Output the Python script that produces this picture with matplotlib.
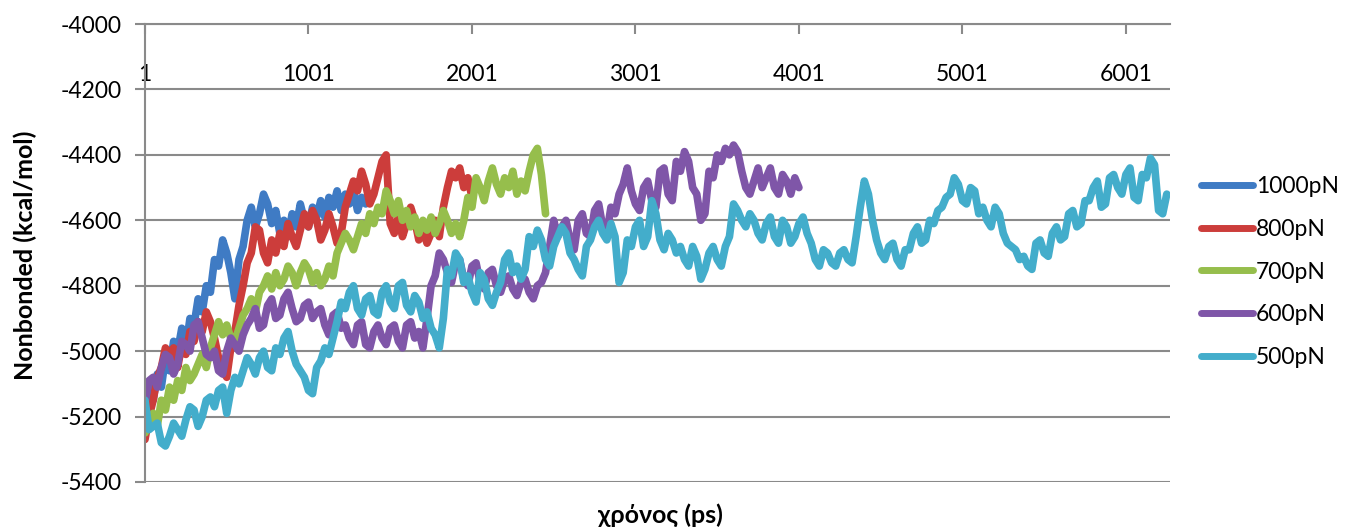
import matplotlib
matplotlib.use("Agg")
import matplotlib.pyplot as plt
import numpy as np

plt.rcParams['font.family'] = ['Lato', 'DejaVu Sans']

# Sampling interval of the stored traces (ps)
STEP = 25

series_names = ["1000pN", "800pN", "700pN", "600pN", "500pN"]
series_colors = ["#3F7BC4", "#CC3D3B", "#96BE4C", "#7F56A8", "#43ADCB"]

e_1000pN = [-5180, -5110, -5150, -5070, -5110, -5020, -5060, -4970, -5000, -4930,
            -4990, -4900, -4920, -4840, -4880, -4800, -4820, -4720, -4740, -4660,
            -4700, -4760, -4840, -4720, -4680, -4600, -4560, -4620, -4580, -4520,
            -4550, -4610, -4570, -4640, -4600, -4650, -4580, -4620, -4550, -4600,
            -4620, -4560, -4590, -4540, -4590, -4530, -4560, -4510, -4570, -4520,
            -4550, -4510, -4570, -4530, -4550]

e_800pN = [-5270, -5200, -5150, -5080, -5050, -4990, -5010, -4990, -5050, -4980,
           -5010, -4940, -4970, -4910, -4940, -4880, -4910, -4960, -5020, -5060,
           -5080, -4990, -4940, -4860, -4800, -4730, -4700, -4620, -4630, -4700,
           -4730, -4660, -4700, -4640, -4680, -4610, -4650, -4680, -4630, -4580,
           -4620, -4570, -4600, -4660, -4630, -4580, -4620, -4670, -4640, -4560,
           -4520, -4480, -4510, -4450, -4490, -4550, -4520, -4470, -4420, -4400,
           -4610, -4640, -4590, -4650, -4610, -4560, -4600, -4660, -4630, -4670,
           -4640, -4600, -4650, -4560, -4500, -4450, -4470, -4440, -4500, -4470,
           -4530]

e_700pN = [-5250, -5220, -5190, -5230, -5150, -5180, -5110, -5150, -5090, -5120,
           -5050, -5090, -5070, -5040, -5010, -5050, -4990, -4950, -4910, -4950,
           -4920, -4960, -4970, -4930, -4890, -4870, -4840, -4880, -4820, -4800,
           -4770, -4810, -4760, -4800, -4780, -4740, -4760, -4800, -4760, -4730,
           -4750, -4790, -4760, -4800, -4780, -4740, -4770, -4700, -4670, -4640,
           -4660, -4690, -4650, -4610, -4640, -4580, -4610, -4560, -4580, -4510,
           -4540, -4580, -4540, -4600, -4570, -4620, -4590, -4640, -4600, -4630,
           -4590, -4640, -4610, -4570, -4600, -4640, -4610, -4650, -4600, -4530,
           -4560, -4470, -4500, -4540, -4480, -4440, -4490, -4520, -4470, -4500,
           -4450, -4520, -4480, -4510, -4450, -4400, -4380, -4460, -4580]

e_600pN = [-5150, -5090, -5080, -5110, -5050, -5010, -5020, -5070, -5040, -4970,
           -4980, -5000, -4920, -4910, -4960, -5010, -5020, -5000, -5060, -5070,
           -5000, -4960, -4980, -5000, -4950, -4920, -4900, -4870, -4930, -4920,
           -4860, -4840, -4900, -4890, -4840, -4820, -4870, -4910, -4900, -4860,
           -4850, -4900, -4880, -4870, -4920, -4950, -4890, -4880, -4930, -4920,
           -4960, -4980, -4920, -4910, -4980, -4990, -4940, -4920, -4960, -4980,
           -4930, -4920, -4970, -4990, -4920, -4910, -4960, -4940, -4990, -4900,
           -4800, -4770, -4700, -4720, -4760, -4790, -4730, -4720, -4780, -4800,
           -4740, -4730, -4790, -4810, -4760, -4750, -4800, -4820, -4780, -4770,
           -4810, -4830, -4790, -4780, -4820, -4840, -4800, -4790, -4760, -4680,
           -4600, -4650, -4620, -4600, -4660, -4690, -4600, -4580, -4640, -4650,
           -4570, -4550, -4620, -4640, -4560, -4580, -4520, -4490, -4440, -4510,
           -4550, -4570, -4500, -4480, -4540, -4560, -4450, -4440, -4520, -4540,
           -4420, -4450, -4390, -4420, -4500, -4520, -4600, -4580, -4450, -4470,
           -4400, -4420, -4380, -4400, -4370, -4390, -4450, -4500, -4520, -4480,
           -4440, -4500, -4470, -4440, -4500, -4520, -4460, -4480, -4520, -4470,
           -4500]

e_500pN = [-5150, -5240, -5230, -5220, -5280, -5290, -5260, -5220, -5240, -5260,
           -5210, -5170, -5180, -5230, -5200, -5150, -5140, -5170, -5120, -5110,
           -5190, -5120, -5080, -5100, -5060, -5020, -5040, -5070, -5020, -5000,
           -5050, -5060, -4990, -5010, -4960, -4940, -5000, -5040, -5060, -5080,
           -5120, -5130, -5050, -5030, -4990, -5010, -4960, -4910, -4850, -4870,
           -4820, -4800, -4870, -4890, -4840, -4830, -4880, -4890, -4820, -4800,
           -4850, -4870, -4800, -4790, -4860, -4880, -4830, -4850, -4900, -4880,
           -4930, -4950, -4990, -4900, -4750, -4770, -4700, -4720, -4790, -4770,
           -4820, -4850, -4760, -4780, -4840, -4860, -4820, -4790, -4720, -4700,
           -4760, -4740, -4780, -4750, -4650, -4680, -4630, -4660, -4720, -4740,
           -4680, -4650, -4620, -4640, -4700, -4720, -4750, -4770, -4680, -4660,
           -4620, -4600, -4640, -4660, -4610, -4650, -4790, -4760, -4660, -4680,
           -4620, -4600, -4680, -4650, -4540, -4580, -4660, -4690, -4640, -4660,
           -4700, -4680, -4720, -4740, -4680, -4710, -4780, -4750, -4700, -4680,
           -4720, -4740, -4680, -4650, -4550, -4570, -4600, -4620, -4580, -4600,
           -4640, -4660, -4610, -4590, -4650, -4670, -4600, -4620, -4670, -4650,
           -4610, -4590, -4640, -4670, -4720, -4740, -4690, -4700, -4730, -4740,
           -4700, -4690, -4720, -4730, -4650, -4560, -4480, -4520, -4600, -4660,
           -4700, -4720, -4680, -4670, -4720, -4740, -4690, -4690, -4640, -4620,
           -4670, -4660, -4600, -4610, -4570, -4560, -4530, -4520, -4470, -4490,
           -4540, -4550, -4500, -4510, -4580, -4560, -4600, -4620, -4560, -4580,
           -4640, -4670, -4680, -4690, -4720, -4710, -4740, -4750, -4670, -4660,
           -4700, -4710, -4640, -4620, -4660, -4650, -4580, -4570, -4620, -4610,
           -4540, -4540, -4500, -4480, -4560, -4550, -4470, -4460, -4500, -4520,
           -4460, -4440, -4530, -4540, -4460, -4470, -4410, -4430, -4570, -4580,
           -4520]

series_values = [e_1000pN, e_800pN, e_700pN, e_600pN, e_500pN]

x_ticks = [1, 1001, 2001, 3001, 4001, 5001, 6001]
y_ticks = list(range(-5400, -3999, 200))

FS = 16.5

fig = plt.figure(figsize=(13.45, 5.27), dpi=100)
ax = fig.add_axes([0.1078, 0.0854, 0.762, 0.869])

for name, color, vals in zip(series_names, series_colors, series_values):
    t = 1 + STEP * np.arange(len(vals))
    ax.plot(t, vals, color=color, lw=5.5, solid_joinstyle='round',
            solid_capstyle='round', label=name)

ax.set_xlim(1, 6270)
ax.set_ylim(-5400, -4000)
ax.set_yticks(y_ticks)
ax.set_yticklabels([str(v) for v in y_ticks])
ax.set_xticks(x_ticks)
ax.set_xticklabels([str(v) for v in x_ticks])

grid_c = "#8a8a8a"
ax.yaxis.grid(True, color=grid_c, lw=1.5)
ax.set_axisbelow(True)
for side in ("right", "bottom"):
    ax.spines[side].set_visible(False)
for side in ("left", "top"):
    ax.spines[side].set_color(grid_c)
    ax.spines[side].set_linewidth(1.5)

ax.tick_params(axis='y', length=7, width=1.5, color=grid_c, labelsize=FS,
               pad=10)
ax.tick_params(axis='x', bottom=False, labelbottom=False, top=True,
               labeltop=True, direction='in', length=7, width=1.5,
               color=grid_c, labelsize=FS, pad=-44)

fig.text(25 / 1345, 0.516, "Nonbonded (kcal/mol)", rotation=90,
         ha='center', va='center', fontsize=18, fontweight='bold')
fig.text(0.4907, 0.023, "χρόνος (ps)", ha='center', va='center',
         fontsize=18, fontweight='bold')

leg = ax.legend(loc='center left', bbox_to_anchor=(1.01, 0.4585),
                frameon=False, fontsize=FS, handlelength=2.3,
                handletextpad=0.1, labelspacing=0.95)
for h in leg.get_lines():
    h.set_linewidth(5)

fig.savefig("out.png", dpi=100)
